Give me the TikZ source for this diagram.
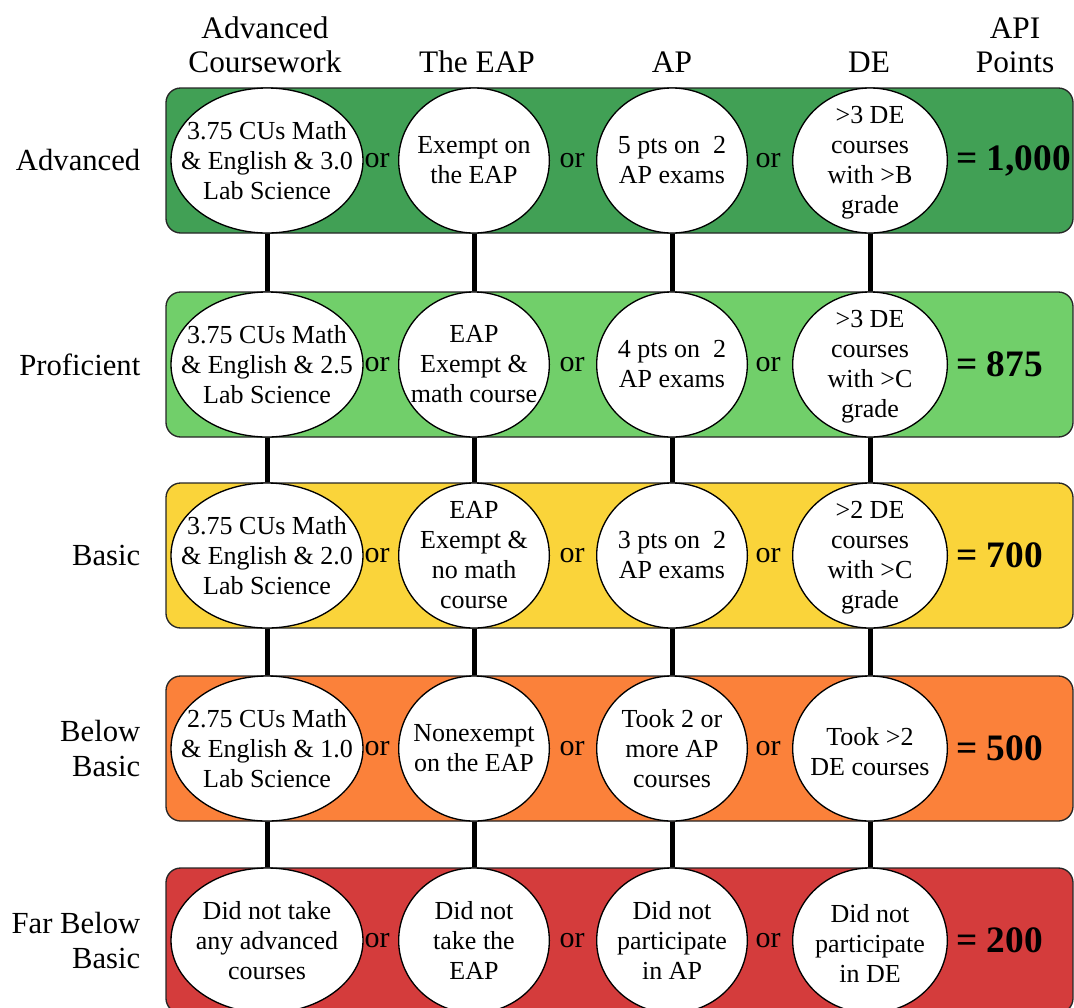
\documentclass[tikz,border=0pt]{standalone}
\usepackage{fontspec}
\setmainfont{Liberation Serif}
\usepackage{tikz}
\usetikzlibrary{shapes.geometric}
\definecolor{advanced}{RGB}{65,160,85}
\definecolor{proficient}{RGB}{113,207,106}
\definecolor{basic}{RGB}{250,212,58}
\definecolor{belowbasic}{RGB}{251,129,58}
\definecolor{farbelow}{RGB}{212,60,60}
\tikzset{
	palierbox/.style={draw=black!85, line width=1pt, rounded corners=11pt},
	cell/.style={ellipse, draw, fill=white, line width=1pt, inner sep=0pt,
		minimum width=113pt, minimum height=108.75pt},
	celltext/.style={inner sep=0pt, align=center, font=\fontsize{19.5}{22.5}\selectfont},
	niveau/.style={align=right, font=\fontsize{23}{26}\selectfont},
	entete/.style={align=center, font=\fontsize{23.5}{25.5}\selectfont},
	ou/.style={inner sep=0pt, font=\fontsize{22.5}{24}\selectfont},
	pts/.style={inner sep=0pt, font=\fontsize{28}{30}\selectfont\bfseries},
	lien/.style={line width=3.75pt}
}
\newcommand{\palier}[9] % {n}{y}{couleur}{niveau}{AC}{EAP}{AP}{DE}{points}
{
	\draw [palierbox, fill=#3] (166,#2-72.5) rectangle (1073,#2+72.5);
	\node [niveau, anchor=east] (l#1) at (145,#2) {#4};
	\node [cell, minimum width=144pt] (c#1) at (267,#2) {};
	\node [cell] (e#1) at (474,#2) {};
	\node [cell] (a#1) at (672,#2) {};
	\node [cell, minimum width=116pt] (d#1) at (870,#2) {};
	\node [celltext] (tc#1) at (c#1) {#5};
	\node [celltext] (te#1) at (e#1) {#6};
	\node [celltext] (ta#1) at (a#1) {#7};
	\node [celltext] (td#1) at ([yshift=-2pt]d#1.center) {#8};
	\node [ou] (o#1a) at (377,#2) {or};
	\node [ou] (o#1b) at (572,#2) {or};
	\node [ou] (o#1c) at (768,#2) {or};
	\node [pts, anchor=west] (p#1) at (956,#2) {= #9};
}

\begin{document}
\begin{tikzpicture}[x=0.75pt, y=-0.75pt]
	\useasboundingbox (0,0) rectangle (1074,1007);
	\clip (0,0) rectangle (1074,1007);

	% en-tetes
	\node [entete] (hac) at (265,45) {Advanced\\Coursework};
	\node [entete] (heap) at (477,62) {The EAP};
	\node [entete] (hap) at (672,62) {AP};
	\node [entete] (hde) at (869,62) {DE};
	\node [entete] (hpts) at (1015,45) {API\\Points};

	\palier{1}{160.5}{advanced}{Advanced}
		{3.75 CUs Math\\\& English \& 3.0\\Lab Science}
		{Exempt on\\the EAP}
		{5 pts on~ 2\\AP exams}
		{>3 DE\\courses\\with >B\\grade}
		{1,000}
	\palier{2}{364.5}{proficient}{Proficient}
		{3.75 CUs Math\\\& English \& 2.5\\Lab Science}
		{EAP\\Exempt \&\\math course}
		{4 pts on~ 2\\AP exams}
		{>3 DE\\courses\\with >C\\grade}
		{875}
	\palier{3}{555.5}{basic}{Basic}
		{3.75 CUs Math\\\& English \& 2.0\\Lab Science}
		{EAP\\Exempt \&\\no math\\course}
		{3 pts on~ 2\\AP exams}
		{>2 DE\\courses\\with >C\\grade}
		{700}
	\palier{4}{748.5}{belowbasic}{Below\\Basic}
		{2.75 CUs Math\\\& English \& 1.0\\Lab Science}
		{Nonexempt\\on the EAP}
		{Took 2 or\\more AP\\courses}
		{Took >2\\DE courses}
		{500}
	\palier{5}{940.5}{farbelow}{Far Below\\Basic}
		{Did not take\\any advanced\\courses}
		{Did not\\take the\\EAP}
		{Did not\\participate\\in AP}
		{Did not\\participate\\in DE}
		{200}

	% liens entre paliers
	\foreach \r/\s in {1/2,2/3,3/4,4/5}
		\foreach \c in {c,e,a,d}
			\draw [lien] (\c\r) -- (\c\s);
\end{tikzpicture}
\end{document}
